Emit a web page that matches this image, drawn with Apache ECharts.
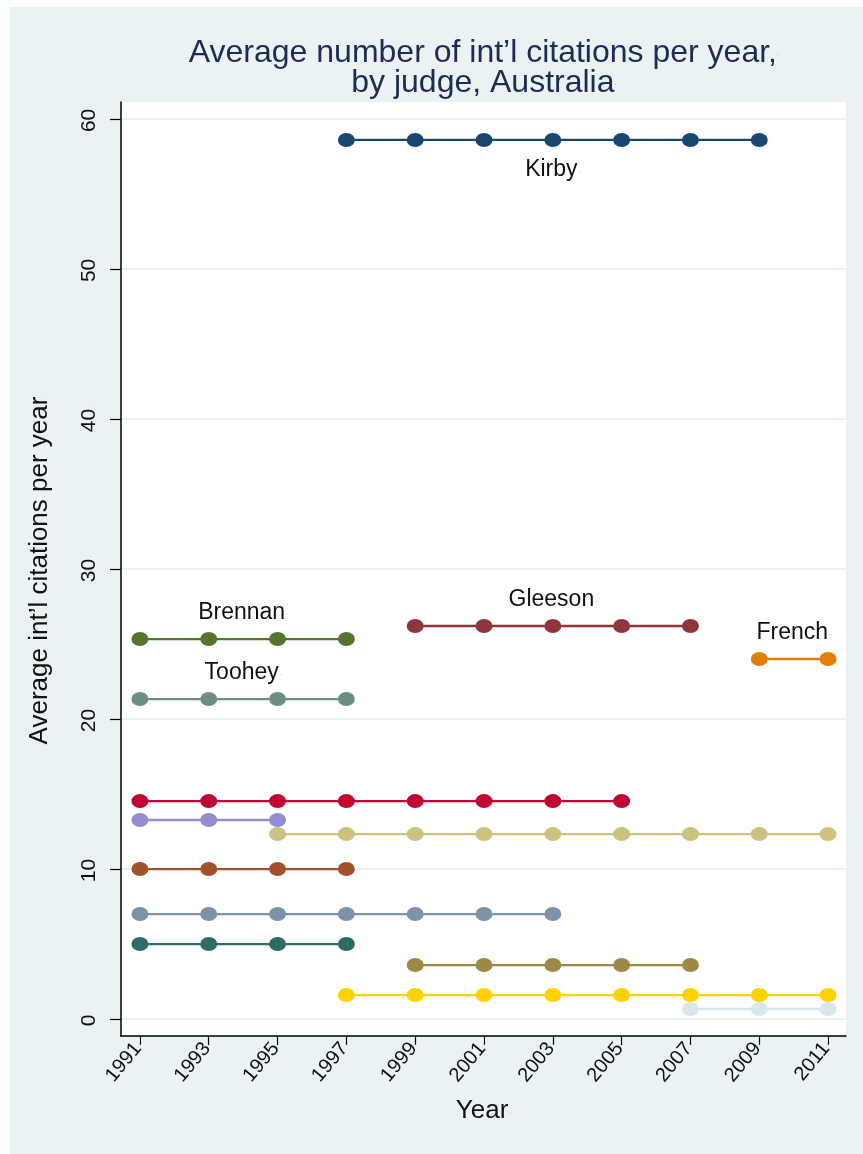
<!DOCTYPE html>
<html>
<head>
<meta charset="utf-8">
<script src="https://cdn.jsdelivr.net/npm/echarts@6/dist/echarts.min.js"></script>
<style>
  html, body { margin: 0; padding: 0; background: #ffffff; }
  #chart { width: 863px; height: 1154px; }
</style>
</head>
<body>
<div id="chart"></div>
<script>
// ---- Data ----
const years = [1991, 1993, 1995, 1997, 1999, 2001, 2003, 2005, 2007, 2009, 2011];
const yTicks = [0, 10, 20, 30, 40, 50, 60];

const kirby    = [null, null, null, 58.6, 58.6, 58.6, 58.6, 58.6, 58.6, 58.6, null];
const gleeson  = [null, null, null, null, 26.2, 26.2, 26.2, 26.2, 26.2, null, null];
const brennan  = [25.33, 25.33, 25.33, 25.33, null, null, null, null, null, null, null];
const french   = [null, null, null, null, null, null, null, null, null, 24.0, 24.0];
const toohey   = [21.33, 21.33, 21.33, 21.33, null, null, null, null, null, null, null];
const judgeA   = [14.53, 14.53, 14.53, 14.53, 14.53, 14.53, 14.53, 14.53, null, null, null];
const judgeB   = [13.27, 13.27, 13.27, null, null, null, null, null, null, null, null];
const judgeC   = [null, null, 12.33, 12.33, 12.33, 12.33, 12.33, 12.33, 12.33, 12.33, 12.33];
const judgeD   = [10.0, 10.0, 10.0, 10.0, null, null, null, null, null, null, null];
const judgeE   = [7.0, 7.0, 7.0, 7.0, 7.0, 7.0, 7.0, null, null, null, null];
const judgeF   = [5.0, 5.0, 5.0, 5.0, null, null, null, null, null, null, null];
const judgeG   = [null, null, null, null, 3.6, 3.6, 3.6, 3.6, 3.6, null, null];
const judgeH   = [null, null, null, 1.6, 1.6, 1.6, 1.6, 1.6, 1.6, 1.6, 1.6];
const judgeI   = [null, null, null, null, null, null, null, null, 0.67, 0.67, 0.67];

const seriesDefs = [
  { name: 'Kirby',   values: kirby,   color: '#1a476f', label: 'Kirby',   below: true },
  { name: 'Gleeson', values: gleeson, color: '#90353b', label: 'Gleeson' },
  { name: 'Brennan', values: brennan, color: '#55752f', label: 'Brennan' },
  { name: 'French',  values: french,  color: '#e37e00', label: 'French' },
  { name: 'Toohey',  values: toohey,  color: '#6e8e84', label: 'Toohey' },
  { name: 'A', values: judgeA, color: '#c10534' },
  { name: 'B', values: judgeB, color: '#938dd2' },
  { name: 'C', values: judgeC, color: '#cac27e' },
  { name: 'D', values: judgeD, color: '#a0522d' },
  { name: 'E', values: judgeE, color: '#7b92a8' },
  { name: 'F', values: judgeF, color: '#2d6d66' },
  { name: 'G', values: judgeG, color: '#9c8847' },
  { name: 'H', values: judgeH, color: '#ffd200' },
  { name: 'I', values: judgeI, color: '#d9e6eb' }
];

const FONT = 'Liberation Sans, Arial, Helvetica, sans-serif';
const dotRich = { d: { fontSize: 7, color: '#9aa4a8', fontFamily: FONT, padding: [0, 0, 0, 1] } };

const series = seriesDefs.map(def => {
  const pts = years.map((y, i) => [y, def.values[i]]).filter(p => p[1] !== null);
  const s = {
    name: def.name,
    type: 'line',
    data: pts,
    symbol: 'circle',
    symbolSize: [17, 14],
    lineStyle: { color: def.color, width: 2.3 },
    itemStyle: { color: def.color },
    emphasis: { disabled: true },
    animation: false,
    z: 3
  };
  if (def.label) {
    const midX = (pts[0][0] + pts[pts.length - 1][0]) / 2;
    const v = pts[0][1];
    s.markPoint = {
      symbol: 'circle',
      symbolSize: 0,
      silent: true,
      animation: false,
      data: [{ coord: [midX, v] }],
      label: {
        show: true,
        formatter: def.label + '{d|.}',
        rich: dotRich,
        color: '#111',
        fontSize: 23,
        fontFamily: FONT,
        position: 'inside',
        offset: [0, def.below ? 30 : -26]
      }
    };
  }
  return s;
});

const chart = echarts.init(document.getElementById('chart'), null, { renderer: 'canvas' });
chart.setOption({
  backgroundColor: '#ffffff',
  animation: false,
  graphic: [{
    type: 'rect',
    shape: { x: 10, y: 7, width: 853, height: 1147 },
    style: { fill: '#eaf2f3' },
    z: -100,
    silent: true
  }],
  title: {
    text: "Average number of int\u2019l citations per year,{d|.}\nby judge, Australia{d|.}",
    left: 479,
    textAlign: 'center',
    top: 33,
    textStyle: {
      color: '#1e2b52',
      fontSize: 32,
      fontWeight: 'normal',
      fontFamily: FONT,
      lineHeight: 30,
      rich: { d: { fontSize: 8, color: '#9aa4a8', fontFamily: FONT, lineHeight: 30 } }
    }
  },
  grid: {
    left: 121, top: 102, right: 17, bottom: 118,
    show: true, backgroundColor: '#ffffff', borderWidth: 0,
    containLabel: false
  },
  xAxis: {
    type: 'value',
    min: 1990.45,
    max: 2011.52,
    name: 'Year{d|.}',
    nameLocation: 'middle',
    nameGap: 62,
    nameTextStyle: { color: '#111', fontSize: 26, fontFamily: FONT, rich: dotRich },
    axisLine: { show: true, onZero: false, lineStyle: { color: '#000', width: 1.5 } },
    axisTick: { show: true, inside: false, length: 9, customValues: years, lineStyle: { color: '#000', width: 1.2 } },
    axisLabel: {
      customValues: years,
      rotate: 50,
      margin: 7,
      color: '#111',
      fontSize: 20,
      fontFamily: FONT,
      formatter: v => v + '{d|.}',
      rich: dotRich
    },
    splitLine: { show: false }
  },
  yAxis: {
    type: 'value',
    min: -1.13,
    max: 61.13,
    name: "Average int\u2019l citations per year{d|.}",
    nameLocation: 'middle',
    nameGap: 68,
    nameRotate: 90,
    nameTextStyle: { color: '#111', fontSize: 26, fontFamily: FONT, rich: dotRich },
    axisLine: { show: true, onZero: false, lineStyle: { color: '#000', width: 1.5 } },
    axisTick: { show: true, inside: false, length: 11, customValues: yTicks, lineStyle: { color: '#000', width: 1.2 } },
    axisLabel: {
      customValues: yTicks,
      rotate: 90,
      margin: 21,
      color: '#111',
      fontSize: 21,
      fontFamily: FONT,
      formatter: v => v + '{d|.}',
      rich: dotRich
    },
    splitLine: { show: true, lineStyle: { color: '#eaf2f3', width: 2 } }
  },
  series: series
});
</script>
</body>
</html>
